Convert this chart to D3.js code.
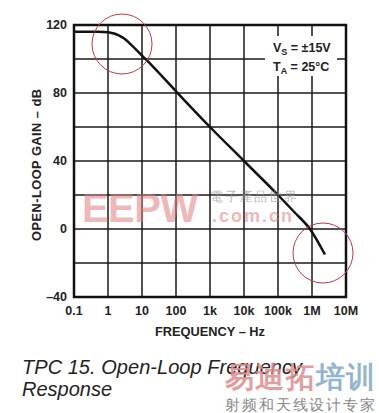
<!DOCTYPE html>
<html>
<head>
<meta charset="utf-8">
<script src="https://cdn.jsdelivr.net/npm/d3@7"></script>
<style>
  body { margin: 0; background: #fff; }
  text { font-family: "Liberation Sans", Arial, sans-serif; }
</style>
</head>
<body>
<div class="chart"></div>
<script>
const freq = [0.1, 0.5, 1, 1.5, 2, 3, 5, 10, 20, 100, 1e3, 1e4, 1e5, 3e5, 8.7e5, 2.4e6];
const gain = [116, 116, 115.8, 115, 114, 112, 108, 102, 96, 81, 60, 40, 20, 10, 0, -15];
const xTicks = [0.1, 1, 10, 100, 1e3, 1e4, 1e5, 1e6, 1e7];
const xTickLabels = ['0.1', '1', '10', '100', '1k', '10k', '100k', '1M', '10M'];
const yGrid = [-40, -20, 0, 20, 40, 60, 80, 100, 120];
const yTickLabels = [-40, 0, 40, 80, 120];

const width = 379;
const height = 413;
const plot = { left: 74, right: 346, top: 25, bottom: 297 };

const svg = d3
  .select('.chart')
  .append('svg')
  .attr('width', width)
  .attr('height', height);

const x = d3.scaleLog().domain([0.1, 1e7]).range([plot.left, plot.right]);
const y = d3.scaleLinear().domain([-40, 120]).range([plot.bottom, plot.top]);

// grid
svg
  .append('g')
  .selectAll('line')
  .data(xTicks)
  .join('line')
  .attr('x1', (d) => x(d))
  .attr('x2', (d) => x(d))
  .attr('y1', plot.top)
  .attr('y2', plot.bottom)
  .attr('stroke', '#1a1a1a')
  .attr('stroke-width', 1.5);

svg
  .append('g')
  .selectAll('line')
  .data(yGrid)
  .join('line')
  .attr('x1', plot.left)
  .attr('x2', plot.right)
  .attr('y1', (d) => y(d))
  .attr('y2', (d) => y(d))
  .attr('stroke', '#1a1a1a')
  .attr('stroke-width', 1.5);

// white box behind the conditions text
svg
  .append('rect')
  .attr('x', 265)
  .attr('y', 36)
  .attr('width', 72)
  .attr('height', 40)
  .attr('fill', '#fff');

// frame
svg
  .append('rect')
  .attr('x', plot.left)
  .attr('y', plot.top)
  .attr('width', plot.right - plot.left)
  .attr('height', plot.bottom - plot.top)
  .attr('fill', 'none')
  .attr('stroke', '#111')
  .attr('stroke-width', 2.5);

// curve
const line = d3
  .line()
  .x((d) => x(d[0]))
  .y((d) => y(d[1]))
  .curve(d3.curveMonotoneX);

svg
  .append('path')
  .datum(freq.map((f, i) => [f, gain[i]]))
  .attr('d', line)
  .attr('fill', 'none')
  .attr('stroke', '#111')
  .attr('stroke-width', 2.5);

// tick labels
svg
  .append('g')
  .selectAll('text')
  .data(xTicks)
  .join('text')
  .attr('x', (d) => x(d))
  .attr('y', plot.bottom + 18)
  .attr('text-anchor', 'middle')
  .attr('font-size', 12.5)
  .attr('font-weight', 'bold')
  .attr('fill', '#222')
  .text((d, i) => xTickLabels[i]);

svg
  .append('g')
  .selectAll('text')
  .data(yTickLabels)
  .join('text')
  .attr('x', plot.left - 7)
  .attr('y', (d) => y(d) + 4)
  .attr('text-anchor', 'end')
  .attr('font-size', 12.5)
  .attr('font-weight', 'bold')
  .attr('fill', '#222')
  .text((d) => (d < 0 ? '\u2013' + Math.abs(d) : d));

// axis titles
svg
  .append('text')
  .attr('x', 210)
  .attr('y', 336)
  .attr('text-anchor', 'middle')
  .attr('font-size', 12.8)
  .attr('font-weight', 'bold')
  .attr('fill', '#222')
  .text('FREQUENCY \u2013 Hz');

svg
  .append('text')
  .attr('transform', 'translate(41,165) rotate(-90)')
  .attr('text-anchor', 'middle')
  .attr('font-size', 12.8)
  .attr('font-weight', 'bold')
  .attr('fill', '#222')
  .attr('textLength', 152)
  .text('OPEN-LOOP GAIN \u2013 dB');

// conditions
const cond = svg
  .append('g')
  .attr('font-size', 12.5)
  .attr('font-weight', 'bold')
  .attr('fill', '#222');

const vs = cond.append('text').attr('x', 273).attr('y', 52);
vs.append('tspan').text('V');
vs.append('tspan').attr('font-size', 9).attr('dy', 3).text('S');
vs.append('tspan').attr('dy', -3).text(' = \u00b115V');

const ta = cond.append('text').attr('x', 273).attr('y', 71);
ta.append('tspan').text('T');
ta.append('tspan').attr('font-size', 9).attr('dy', 3).text('A');
ta.append('tspan').attr('dy', -3).text(' = 25\u00b0C');

// watermark
svg
  .append('text')
  .attr('x', 82)
  .attr('y', 222)
  .attr('font-size', 40)
  .attr('font-weight', 'bold')
  .attr('fill', '#e07b7b')
  .attr('fill-opacity', 0.55)
  .attr('textLength', 116)
  .text('EEPW');

svg
  .append('text')
  .attr('x', 210)
  .attr('y', 201)
  .attr('font-size', 13)
  .attr('fill', '#999')
  .attr('fill-opacity', 0.7)
  .attr('font-family', '"Noto Sans CJK TC", sans-serif')
  .attr('textLength', 87)
  .text('電子產品世界');

svg
  .append('text')
  .attr('x', 212)
  .attr('y', 222)
  .attr('font-size', 18)
  .attr('font-weight', 'bold')
  .attr('fill', '#e07b7b')
  .attr('fill-opacity', 0.55)
  .attr('textLength', 80)
  .text('.com.cn');

// red circles
svg
  .append('g')
  .selectAll('circle')
  .data([
    [122, 44],
    [323, 253],
  ])
  .join('circle')
  .attr('cx', (d) => d[0])
  .attr('cy', (d) => d[1])
  .attr('r', 30)
  .attr('fill', 'none')
  .attr('stroke', '#c0393b')
  .attr('stroke-width', 1);

// caption
const cap = svg
  .append('g')
  .attr('font-size', 20)
  .attr('font-style', 'italic')
  .attr('fill', '#222');
cap
  .append('text')
  .attr('x', 22)
  .attr('y', 374)
  .attr('textLength', 280)
  .text('TPC 15. Open-Loop Frequency');
cap
  .append('text')
  .attr('x', 22)
  .attr('y', 396)
  .attr('textLength', 90)
  .text('Response');

// bottom-right watermark
const wm = svg
  .append('text')
  .attr('x', 225)
  .attr('y', 387)
  .attr('font-size', 29)
  .attr('font-weight', 'bold')
  .attr('font-family', '"Noto Sans CJK SC", sans-serif')
  .attr('textLength', 150);
wm.append('tspan').attr('fill', '#e08a8a').attr('fill-opacity', 0.85).text('易迪拓');
wm.append('tspan').attr('fill', '#7fa8c8').attr('fill-opacity', 0.85).text('培训');

svg
  .append('text')
  .attr('x', 225)
  .attr('y', 410)
  .attr('font-size', 15)
  .attr('fill', '#888')
  .attr('font-family', '"Noto Sans CJK SC", sans-serif')
  .attr('textLength', 150)
  .text('射频和天线设计专家');
</script>
</body>
</html>
